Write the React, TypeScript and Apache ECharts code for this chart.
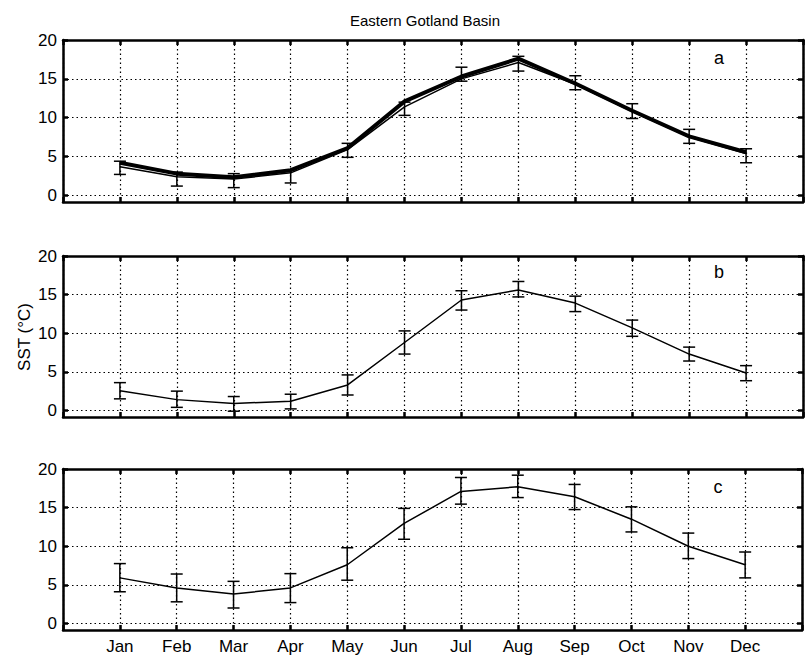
import React, { useEffect, useRef } from "react";
import * as echarts from "echarts";

const months = ["Jan", "Feb", "Mar", "Apr", "May", "Jun", "Jul", "Aug", "Sep", "Oct", "Nov", "Dec"];
const yTicks = [0, 5, 10, 15, 20];

// Panel a
const aThick = [4.2, 2.8, 2.35, 3.25, 6.1, 12.1, 15.3, 17.6, 14.4, 10.9, 7.6, 5.55];
const aThin = [3.7, 2.4, 2.1, 2.9, 5.9, 11.4, 15.0, 17.1, 14.3, 10.8, 7.5, 5.4];
const aLow = [2.7, 1.2, 1.0, 1.6, 4.9, 10.3, 14.7, 16.0, 13.6, 9.9, 6.7, 4.2];
const aHigh = [4.4, 3.0, 2.8, 3.3, 6.7, 12.0, 16.5, 17.9, 15.4, 11.8, 8.5, 6.0];

// Panel b
const bLine = [2.55, 1.4, 0.9, 1.2, 3.3, 8.8, 14.3, 15.6, 13.9, 10.7, 7.3, 4.85];
const bLow = [1.5, 0.4, -0.1, 0.2, 2.0, 7.3, 13.0, 14.7, 12.8, 9.6, 6.4, 3.85];
const bHigh = [3.6, 2.5, 1.8, 2.1, 4.6, 10.3, 15.5, 16.7, 14.8, 11.7, 8.2, 5.8];

// Panel c
const cLine = [5.9, 4.6, 3.8, 4.6, 7.6, 12.95, 17.1, 17.7, 16.4, 13.5, 10.0, 7.6];
const cLow = [4.1, 2.8, 2.0, 2.7, 5.6, 10.9, 15.45, 16.3, 14.75, 11.85, 8.4, 5.9];
const cHigh = [7.75, 6.4, 5.45, 6.45, 9.8, 14.9, 18.9, 19.2, 18.0, 15.1, 11.7, 9.25];

const FONT = "'Liberation Sans', Arial, Helvetica, sans-serif";
const BLACK = "#000";

const grids = [
  { left: 63, right: 2, top: 40, height: 162 },
  { left: 63, right: 2, top: 256, height: 161 },
  { left: 63, right: 2, top: 469, height: 161 },
];

function pts(vals: number[]) {
  return vals.map((v, i) => [i + 1, v]);
}
function errs(lo: number[], hi: number[]) {
  return lo.map((l, i) => [i + 1, l, hi[i]]);
}

const errRender = (params: any, api: any) => {
  const x = api.value(0);
  const pLo = api.coord([x, api.value(1)]);
  const pHi = api.coord([x, api.value(2)]);
  const w = 6;
  const style = { stroke: BLACK, lineWidth: 1.5 };
  return {
    type: "group",
    children: [
      { type: "line", shape: { x1: pLo[0], y1: pLo[1], x2: pHi[0], y2: pHi[1] }, style },
      { type: "line", shape: { x1: pLo[0] - w, y1: pLo[1], x2: pLo[0] + w, y2: pLo[1] }, style },
      { type: "line", shape: { x1: pHi[0] - w, y1: pHi[1], x2: pHi[0] + w, y2: pHi[1] }, style },
    ],
  };
};

export default function App() {
  const ref = useRef<HTMLDivElement>(null);
  useEffect(() => {
    if (!ref.current) return;
    const chart = echarts.init(ref.current, null, { renderer: "svg" });
    const axisLine = { show: true, onZero: false, lineStyle: { color: BLACK, width: 2.5 } };
    const tick = { show: true, inside: true, length: 5, lineStyle: { color: BLACK, width: 2.5 } };
    const xAxes: any[] = [];
    const yAxes: any[] = [];
    grids.forEach((g, i) => {
      xAxes.push({
        type: "value",
        gridIndex: i,
        min: 0,
        max: 13,
        interval: 1,
        position: "bottom",
        axisLine,
        axisTick: tick,
        splitLine: { show: true, lineStyle: { color: BLACK, width: 1.2, type: [1.5, 3] } },
        axisLabel: {
          show: i === 2,
          color: BLACK,
          fontSize: 17,
          fontFamily: FONT,
          margin: 8,
          formatter: (v: number) => months[v - 1] || "",
        },
      });
      xAxes.push({
        type: "value",
        gridIndex: i,
        min: 0,
        max: 13,
        interval: 1,
        position: "top",
        axisLine,
        axisTick: tick,
        splitLine: { show: false },
        axisLabel: { show: false },
      });
      yAxes.push({
        type: "value",
        gridIndex: i,
        min: -0.85,
        max: 20,
        position: "left",
        axisLine,
        axisTick: { ...tick, customValues: yTicks },
        splitLine: { show: false },
        axisLabel: {
          show: true,
          customValues: yTicks,
          color: BLACK,
          fontSize: 17,
          fontFamily: FONT,
          margin: 6,
        },
      });
      yAxes.push({
        type: "value",
        gridIndex: i,
        min: -0.85,
        max: 20,
        position: "right",
        axisLine,
        axisTick: { ...tick, customValues: yTicks },
        splitLine: { show: false },
        axisLabel: { show: false },
      });
    });

    const gridMark = {
      silent: true,
      symbol: ["none", "none"],
      label: { show: false },
      lineStyle: { color: BLACK, width: 1.2, type: [1.5, 3] },
      data: [{ yAxis: 0 }, { yAxis: 5 }, { yAxis: 10 }, { yAxis: 15 }],
    };

    const errSeries = (i: number, lo: number[], hi: number[]) => ({
      type: "custom",
      xAxisIndex: i * 2,
      yAxisIndex: i * 2,
      renderItem: errRender,
      encode: { x: 0, y: [1, 2] },
      data: errs(lo, hi),
      markLine: gridMark,
      z: 3,
    });
    const lineSeries = (i: number, vals: number[], width: number) => ({
      type: "line",
      xAxisIndex: i * 2,
      yAxisIndex: i * 2,
      data: pts(vals),
      symbol: "none",
      lineStyle: { color: BLACK, width },
      z: 4,
    });

    chart.setOption({
      animation: false,
      backgroundColor: "#fff",
      grid: grids,
      xAxis: xAxes,
      yAxis: yAxes,
      series: [
        errSeries(0, aLow, aHigh),
        lineSeries(0, aThin, 1.5),
        lineSeries(0, aThick, 4),
        errSeries(1, bLow, bHigh),
        lineSeries(1, bLine, 1.5),
        errSeries(2, cLow, cHigh),
        lineSeries(2, cLine, 1.5),
      ],
      graphic: [
        {
          type: "text",
          x: 425,
          y: 20,
          style: {
            text: "Eastern Gotland Basin",
            fill: BLACK,
            font: `15px ${FONT}`,
            textAlign: "center",
            textVerticalAlign: "middle",
          },
        },
        {
          type: "text",
          x: 24,
          y: 337,
          rotation: Math.PI / 2,
          style: {
            text: "SST (°C)",
            fill: BLACK,
            font: `17px ${FONT}`,
            textAlign: "center",
            textVerticalAlign: "middle",
          },
        },
        { type: "text", x: 719, y: 58, style: { text: "a", fill: BLACK, font: `18px ${FONT}`, textAlign: "center", textVerticalAlign: "middle" } },
        { type: "text", x: 719, y: 272, style: { text: "b", fill: BLACK, font: `18px ${FONT}`, textAlign: "center", textVerticalAlign: "middle" } },
        { type: "text", x: 718, y: 487, style: { text: "c", fill: BLACK, font: `18px ${FONT}`, textAlign: "center", textVerticalAlign: "middle" } },
      ],
    });
    return () => chart.dispose();
  }, []);
  return (
    <div
      ref={ref}
      style={{ position: "fixed", left: 0, top: 0, width: 805, height: 655, background: "#fff" }}
    />
  );
}
